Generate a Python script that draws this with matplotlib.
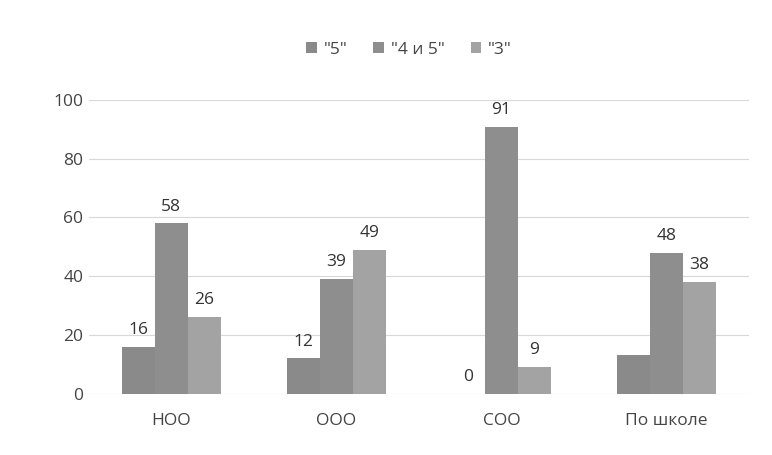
import matplotlib
matplotlib.use('Agg')
import matplotlib.pyplot as plt
import numpy as np

plt.rcParams['font.family'] = ['Open Sans', 'DejaVu Sans']

categories = ['НОО', 'ООО', 'СОО', 'По школе']
series_names = ['"5"', '"4 и 5"', '"3"']
five = [16, 12, 0, 13]
four_five = [58, 39, 91, 48]
three = [26, 49, 9, 38]
# the scan shows no value above the first bar of "По школе"
shown = [[True, True, True, False], [True] * 4, [True] * 4]

colors = ['#8a8a8a', '#8e8e8e', '#a3a3a3']

fig = plt.figure(figsize=(7.72, 4.55), dpi=100)
ax = fig.add_axes([0.115, 0.135, 0.855, 0.645])

x = np.arange(len(categories))
w = 0.2
for i, (vals, name) in enumerate(zip([five, four_five, three], series_names)):
    pos = x + (i - 1) * w
    bars = ax.bar(pos, vals, width=w, color=colors[i], label=name, zorder=2)
    for b, v, s in zip(bars, vals, shown[i]):
        if s:
            ax.text(b.get_x() + b.get_width() / 2, v + 3, str(v),
                    ha='center', va='bottom', fontsize=12.5, color='#333333')

ax.set_xlim(-0.5, 3.5)
ax.set_ylim(0, 100)
ax.set_yticks(range(0, 101, 20))
ax.set_xticks(x)
ax.set_xticklabels(categories)
ax.tick_params(axis='both', length=0, labelsize=12.5, colors='#444444')
ax.tick_params(axis='y', pad=4)
ax.tick_params(axis='x', pad=14)
ax.yaxis.grid(True, color='#d8d8d8', linewidth=0.8, zorder=0)
for s in ax.spines.values():
    s.set_visible(False)

ax.legend(loc='lower center', bbox_to_anchor=(0.485, 1.09), ncol=3, frameon=False,
          fontsize=12.5, handlelength=0.6, handleheight=0.6, columnspacing=1.5,
          handletextpad=0.4, labelcolor='#444444')

fig.savefig('out.png', dpi=100)
